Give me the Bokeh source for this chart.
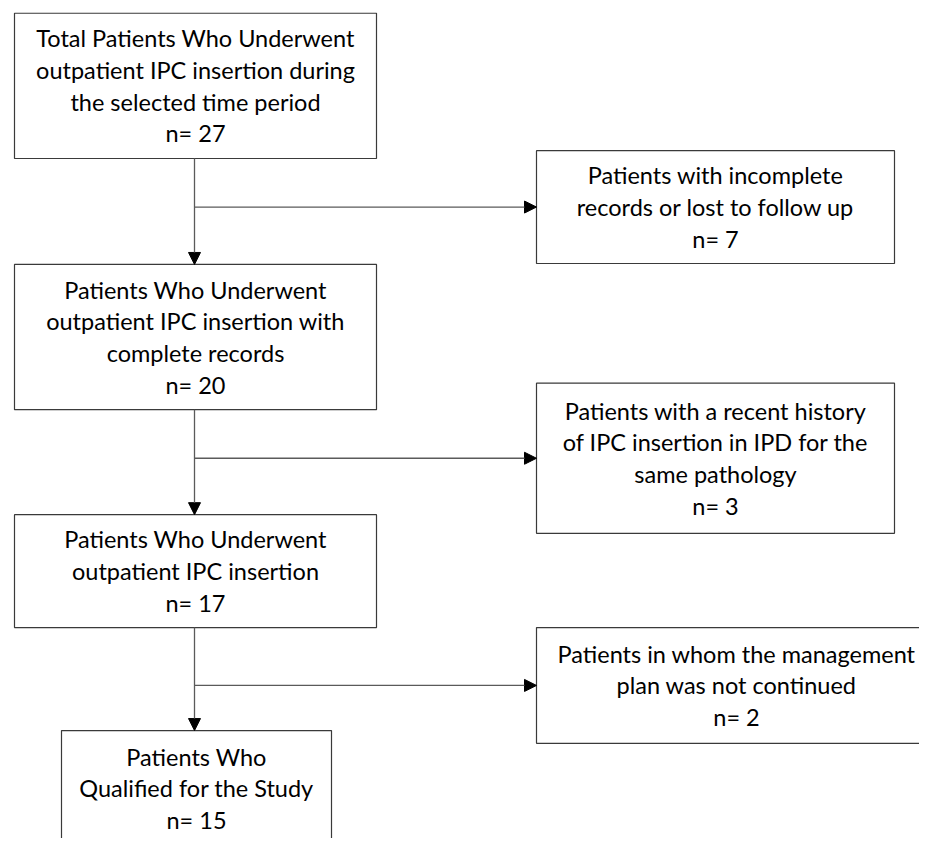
from bokeh.plotting import figure
from bokeh.models import Range1d, ColumnDataSource, Arrow, NormalHead
from bokeh.core.properties import value
from bokeh.embed import file_html
from bokeh.resources import INLINE

# ---- data ----
stage_labels = [
    "Total Patients Who Underwent\noutpatient IPC insertion during\nthe selected time period",
    "Patients Who Underwent\noutpatient IPC insertion with\ncomplete records",
    "Patients Who Underwent\noutpatient IPC insertion",
    "Patients Who\nQualified for the Study",
]
stage_n = [27, 20, 17, 15]

excluded_labels = [
    "Patients with incomplete\nrecords or lost to follow up",
    "Patients with a recent history\nof IPC insertion in IPD for the\nsame pathology",
    "Patients in whom the management\nplan was not continued",
]
excluded_n = [7, 3, 2]

# ---- layout (reference pixel coordinates, y grows downward) ----
stage_box = [(14, 376, 13, 161), (14, 376, 269, 417), (14, 376, 524, 639), (61, 331, 744, 862)]
excl_box = [(536, 894, 153, 268), (536, 894, 390, 543), (536, 936, 639, 757)]
spine_x = 194

p = figure(width=919, height=838, x_range=Range1d(0, 919), y_range=Range1d(854, 0),
           output_backend="svg", toolbar_location=None,
           x_axis_location=None, y_axis_location=None, min_border=0)
p.grid.visible = False
p.outline_line_color = None
p.background_fill_color = "white"

boxes = stage_box + excl_box
texts = [f"{l}\nn= {n}" for l, n in zip(stage_labels, stage_n)] + \
        [f"{l}\nn= {n}" for l, n in zip(excluded_labels, excluded_n)]
cys = [(b[2] + b[3]) / 2 for b in boxes]
cys[3] = 803  # last box is cut by the page edge; text sits in its visible part

src = ColumnDataSource(dict(
    left=[b[0] for b in boxes], right=[b[1] for b in boxes],
    top=[b[2] for b in boxes], bottom=[b[3] for b in boxes],
    cx=[(b[0] + b[1]) / 2 for b in boxes], cy=cys,
    text=texts,
))

p.quad(left="left", right="right", top="top", bottom="bottom", source=src,
       fill_color="white", line_color="#3a3a3a", line_width=1.2)

p.text(x="cx", y="cy", text="text", source=src, text_align="center", text_baseline="middle",
       text_font=value("Lato"), text_font_size="23.5px", text_line_height=1.13, text_color="black")

# connectors
xs0, ys0, xs1, ys1 = [], [], [], []
for i in range(len(excl_box)):
    a, b = stage_box[i], stage_box[i + 1]
    e = excl_box[i]
    xs0.append(spine_x); ys0.append(a[3]); xs1.append(spine_x); ys1.append(b[2])
    ey = (e[2] + e[3]) / 2
    xs0.append(spine_x); ys0.append(ey); xs1.append(e[0]); ys1.append(ey)

asrc = ColumnDataSource(dict(x0=xs0, y0=ys0, x1=xs1, y1=ys1))
p.add_layout(Arrow(x_start="x0", y_start="y0", x_end="x1", y_end="y1", source=asrc,
                   line_color="#5a5a5a", line_width=1.3,
                   end=NormalHead(size=12, fill_color="black", line_color="black", line_width=1)))

open("out.html", "w").write(file_html(p, INLINE))
